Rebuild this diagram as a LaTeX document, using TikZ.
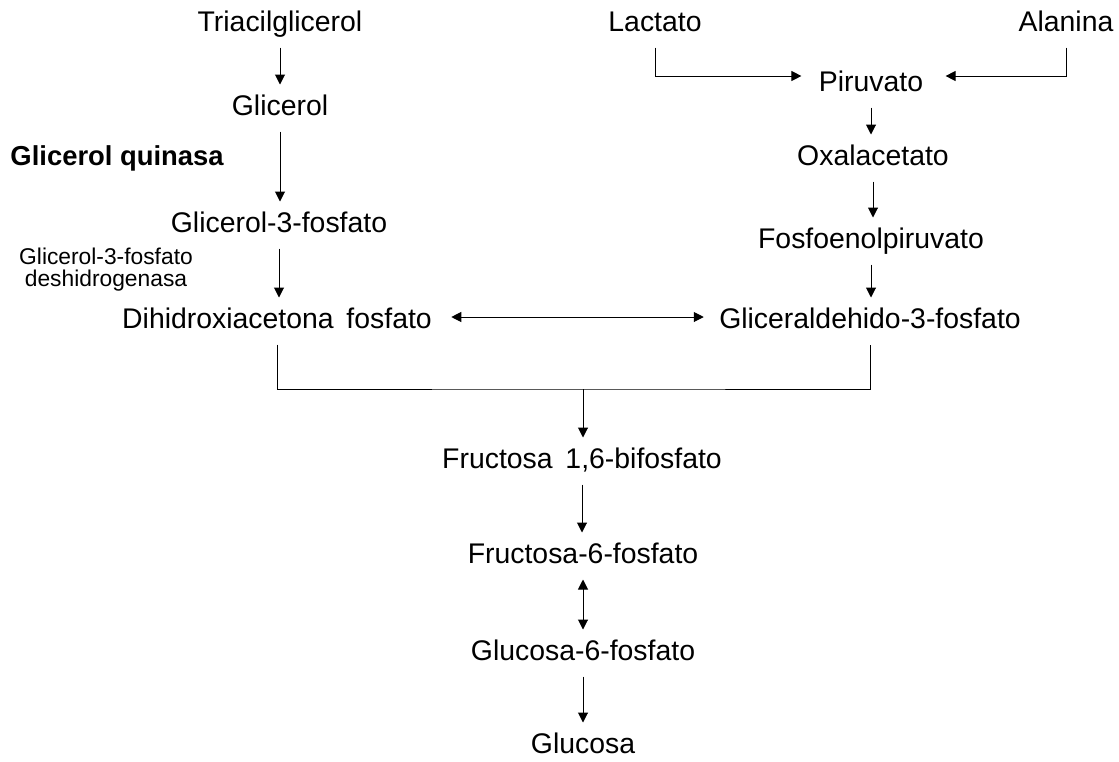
\documentclass[tikz,border=0pt]{standalone}
\usepackage{fontspec}
\setmainfont{Liberation Sans}
\usetikzlibrary{positioning, arrows.meta}

\begin{document}
\begin{tikzpicture}[x=0.5pt, y=-0.5pt, >={Triangle[length=5pt, width=5pt]}, line width=0.5pt,
    every node/.style={anchor=base},
    met/.style={font=\fontsize{14.2}{17}\selectfont, inner xsep=4pt, inner ysep=5pt, text height=10pt, text depth=3pt},
    enz/.style={font=\fontsize{11.4}{11}\selectfont, align=center, inner sep=0pt, anchor=north},
    enzbold/.style={font=\fontsize{13.7}{16}\selectfont\bfseries, inner sep=0pt, anchor=base west}]

\useasboundingbox (0,0) rectangle (1119,761);

% Nodes for the glycerol branch
\node[met] (tri) at (280, 31) {Triacilglicerol};
\node[met] (gli) at (280, 115) {Glicerol};
\node[met] (g3p) at (279, 232) {Glicerol-3-fosfato};
\node[met] (dhap) at (277, 328) {Dihidroxiacetona\hspace{0.45em}fosfato};

% enzymes
\node[enzbold] (gk) at (10, 165) {Glicerol quinasa};
\node[enz] (gpdh) at (106, 247) {Glicerol-3-fosfato\\deshidrogenasa};

% Nodes for the lactate / alanine branch
\node[met] (lac) at (655, 31) {Lactato};
\node[met] (ala) at (1066, 31) {Alanina};
\node[met] (pir) at (871, 91) {Piruvato};
\node[met] (oxa) at (873, 165) {Oxalacetato};
\node[met] (pep) at (871, 248) {Fosfoenolpiruvato};
\node[met] (gap) at (870, 328) {Gliceraldehido-3-fosfato};

% Nodes for the common trunk
\node[met] (f16) at (582, 468) {Fructosa\hspace{0.45em}1,6-bifosfato};
\node[met] (f6p) at (583, 563) {Fructosa-6-fosfato};
\node[met] (g6p) at (583, 660) {Glucosa-6-fosfato};
\node[met] (glc) at (583, 753) {Glucosa};

% glycerol to DHAP
\draw[->] (tri) -- (gli);
\draw[->] (gli.south) -- (gli.south |- g3p.north);
\draw[->] (g3p.south) -- (g3p.south |- dhap.north);

% lactate and alanine to pyruvate
\draw[->, shorten >=4.5pt] (lac.south) |- ([yshift=4pt]pir.west);
\draw[->, shorten >=7pt] (ala.south) |- ([yshift=4pt]pir.east);
\draw[->] (pir.south) -- (pir.south |- oxa.north);
\draw[->] (oxa.south) -- (oxa.south |- pep.north);
\draw[->] (pep.south) -- (pep.south |- gap.north);

% triose phosphates
\draw[<->, shorten <=5.5pt, shorten >=3.5pt] ([yshift=2pt]dhap.east) -- ([yshift=2pt]gap.west);

\coordinate (join) at (583, 389);
\draw (dhap.south) |- (join) -| (gap.south);
\draw[->] (join) -- (join |- f16.north);

% down to glucose
\draw[->] (f16.south) -- (f16.south |- f6p.north);
\draw[<->] (f6p) -- (g6p);
\draw[->] (g6p) -- (glc);

\end{tikzpicture}
\end{document}
